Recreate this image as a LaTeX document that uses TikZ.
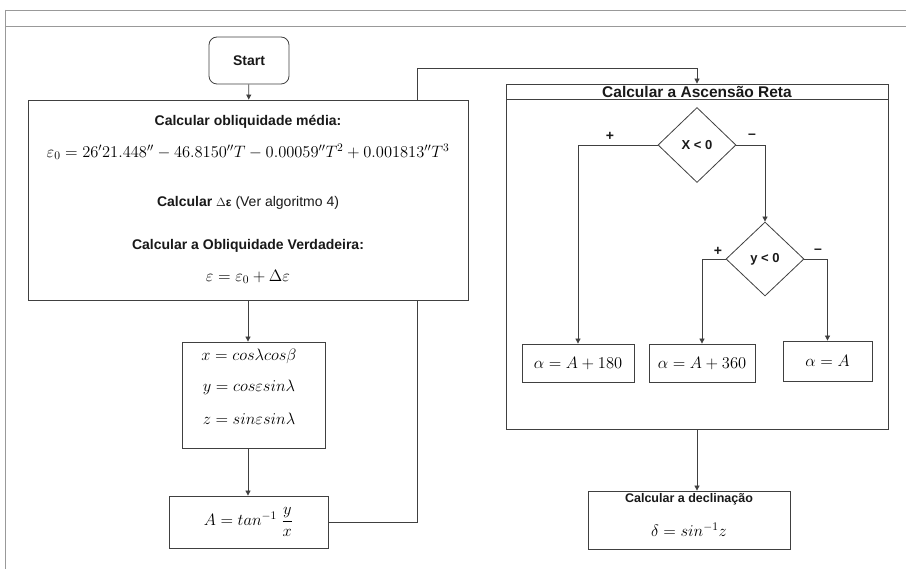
\RequirePackage{fix-cm}
\documentclass[tikz,border=0pt]{standalone}
\usepackage{amsmath}
\usepackage[no-math]{fontspec}
\setmainfont{Liberation Sans}
\usetikzlibrary{shapes.geometric,arrows.meta}

\pgfdeclarelayer{back}
\pgfsetlayers{back,main}

\tikzset{
  line/.style={draw=black!75, line width=0.8pt},
  arr/.style={line, -{Triangle[length=5pt,width=5pt]}},
  box/.style={line, rectangle, inner sep=0pt, fill=white},
  lbl/.style={inner sep=0pt, text=black!90, font=\fontsize{14}{16}\selectfont\bfseries},
  eq/.style={inner sep=0pt, text=black, font=\fontsize{16.5}{19}\selectfont},
  decision/.style={line, diamond, inner sep=0pt, minimum width=78pt, minimum height=75pt,
    text=black!90, font=\fontsize{13}{15}\selectfont\bfseries},
  sign/.style={inner sep=0pt, text=black!90, font=\fontsize{14}{16}\selectfont\bfseries}
}

\begin{document}
\begin{tikzpicture}[x=1pt,y=-1pt]
\useasboundingbox (0,0) rectangle (906,569);

% page frame
\draw[black!40, line width=0.8pt] (5,10) -- (906,10);
\draw[black!40, line width=0.8pt] (5,26) -- (906,26);
\draw[black!40, line width=0.8pt] (5,10) -- (5,569);

% left column
\node[box, rounded corners=8pt, minimum width=80pt, minimum height=47pt, lbl] (start) at (249,60.5) {Start};

\node[box, minimum width=440pt, minimum height=200pt] (obl) at (248,200) {};
\node[lbl] (t1) at (248,122) {Calcular obliquidade média:};
\node[eq] (t2) at (248,152) {$\varepsilon_0 = 26'21.448'' - 46.8150''T - 0.00059''T^2 + 0.001813''T^3$};
\node[inner sep=0pt, text=black!90, font=\fontsize{14}{16}\selectfont] (t3) at (248,203)
  {\textbf{Calcular} {\fontsize{12}{14}\selectfont$\Delta$\textbf{ε}} (Ver algoritmo 4)};
\node[lbl] (t4) at (248,246) {Calcular a Obliquidade Verdadeira:};
\node[eq] (t5) at (248,277) {$\varepsilon = \varepsilon_0 + \Delta\varepsilon$};

\node[box, minimum width=143pt, minimum height=106pt] (xyz) at (253.5,395) {};
\node[eq] (x1) at (249,356) {$x = cos\lambda cos\beta$};
\node[eq] (x2) at (249,387) {$y = cos\varepsilon sin\lambda$};
\node[eq] (x3) at (249,419) {$z = sin\varepsilon sin\lambda$};

\node[box, eq, minimum width=159pt, minimum height=52pt] (atan) at (248.5,522)
  {$A = tan^{-1}\;\dfrac{y}{x}$};

% right ascension block
\node[box, minimum width=382pt, minimum height=345pt] (asc) at (697,256.5) {};
\coordinate (hl) at (506,99);
\coordinate (hr) at (888,99);
\draw[line] (hl) -- (hr);
\node[inner sep=0pt, text=black!90, font=\fontsize{15.5}{17}\selectfont\bfseries] (title) at (697,92) {Calcular a Ascensão Reta};

\node[decision] (d1) at (697,145) {X < 0};
\node[decision, minimum height=74pt] (d2) at (765,259) {y < 0};

\node[box, eq, minimum width=112pt, minimum height=38pt] (a1) at (578,363) {$\alpha = A + 180$};
\node[box, eq, minimum width=106pt, minimum height=38pt] (a2) at (702,363) {$\alpha = A + 360$};
\node[box, eq, minimum width=89pt, minimum height=40pt] (a3) at (827.5,361) {$\alpha = A$};

\node[sign] (p1) at (610,136) {+};
\node[sign] (m1) at (752,136) {–};
\node[sign] (p2) at (718,251) {+};
\node[sign] (m2) at (818,251) {–};

% declination
\node[box, minimum width=202pt, minimum height=58pt] (decl) at (689,520) {};
\node[inner sep=0pt, text=black!90, font=\fontsize{12.5}{14}\selectfont\bfseries] (dt) at (689,499) {Calcular a declinação};
\node[eq] (de) at (689,530) {$\delta = sin^{-1}z$};

% connectors
\coordinate (turn) at (417,68);
\draw[arr] (start) -- (obl);
\draw[arr] (obl.south) -- (obl.south |- xyz.north);
\draw[arr] (xyz.south -| obl.south) -- (obl.south |- atan.north);
\begin{pgfonlayer}{back}
  \draw[arr] (atan.east) -| (turn) -| (asc.north);
\end{pgfonlayer}
\draw[arr] (d1.west) -| (a1.north);
\draw[arr] (d1.east) -| (d2.north);
\draw[arr] (d2.west) -| (a2.north);
\draw[arr] (d2.east) -| (a3.north);
\draw[arr] (asc.south) -- (asc.south |- decl.north);
\end{tikzpicture}
\end{document}
